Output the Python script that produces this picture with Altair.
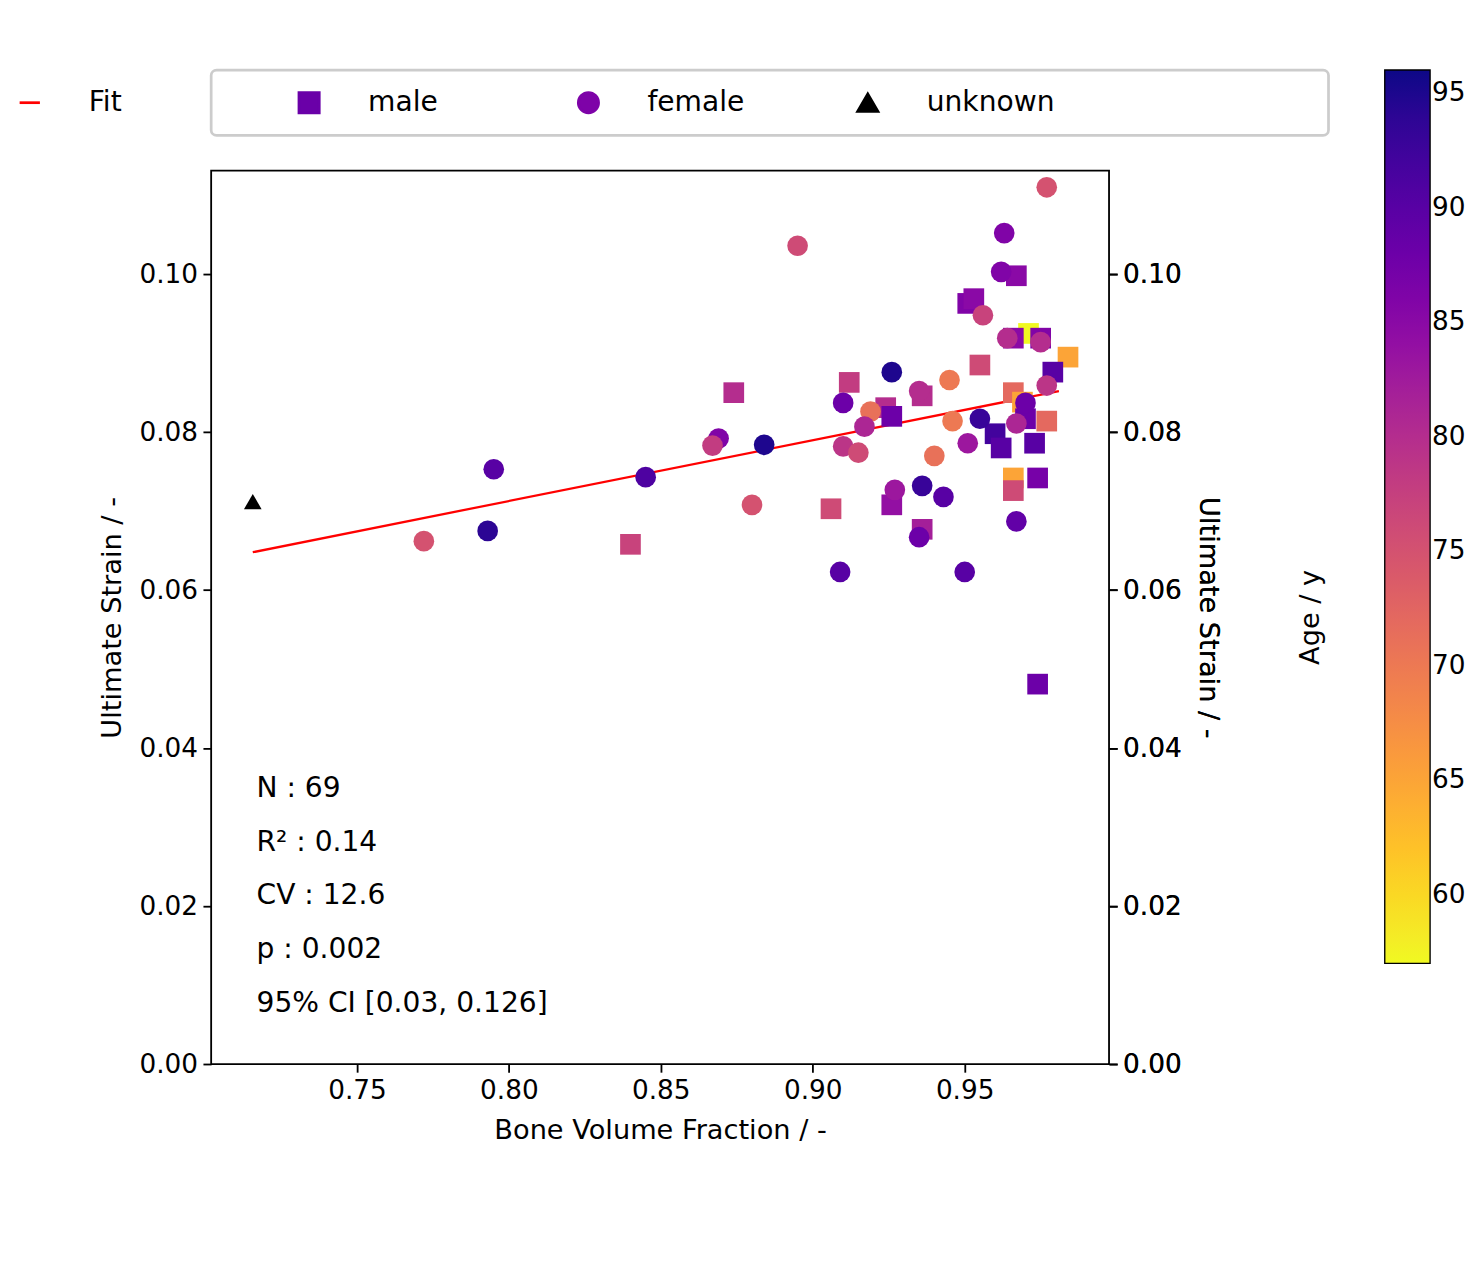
import altair as alt
import pandas as pd

# male samples (squares)
m_bvf = [0.874, 0.912, 0.906, 0.840, 0.924, 0.926, 0.936, 0.926, 0.936, 0.951, 0.953, 0.967, 0.955,
         0.971, 0.966, 0.975, 0.984, 0.979, 0.966, 0.969, 0.970, 0.977, 0.960, 0.962, 0.973, 0.966,
         0.974, 0.966, 0.974]
m_strain = [0.0850, 0.0863, 0.0703, 0.0658, 0.0831, 0.0820, 0.0846, 0.0708, 0.0677, 0.0963, 0.0969,
            0.0998, 0.0885, 0.0925, 0.0919, 0.0919, 0.0895, 0.0876, 0.0850, 0.0838, 0.0817, 0.0814,
            0.0798, 0.0780, 0.0786, 0.0742, 0.0742, 0.0726, 0.0481]
m_age = [80, 78, 76, 77, 80, 88, 80, 84, 82, 86, 85, 85, 76, 57, 85, 86, 65, 90, 72, 65, 88, 72, 92,
         90, 90, 65, 87, 76, 88]

# female samples (circles)
f_bvf = [0.772, 0.793, 0.795, 0.845, 0.869, 0.867, 0.884, 0.880, 0.895, 0.909, 0.910, 0.919, 0.917,
         0.910, 0.915, 0.926, 0.935, 0.945, 0.946, 0.940, 0.955, 0.951, 0.927, 0.936, 0.943, 0.935,
         0.950, 0.967, 0.956, 0.963, 0.962, 0.964, 0.975, 0.977, 0.977, 0.970, 0.967]
f_strain = [0.0662, 0.0675, 0.0753, 0.0743, 0.0792, 0.0783, 0.0784, 0.0708, 0.1036, 0.0623, 0.0837,
            0.0826, 0.0807, 0.0782, 0.0774, 0.0876, 0.0852, 0.0866, 0.0814, 0.0770, 0.0817, 0.0786,
            0.0727, 0.0732, 0.0718, 0.0667, 0.0623, 0.0687, 0.0948, 0.1052, 0.1003, 0.0919, 0.0914,
            0.1110, 0.0859, 0.0837, 0.0811]
f_age = [75, 94, 90, 91, 86, 78, 95, 75, 76, 90, 88, 71, 81, 79, 76, 95, 80, 70, 70, 71, 93, 83, 83,
         93, 90, 88, 90, 89, 77, 86, 86, 80, 80, 75, 79, 88, 81]

# unknown sample
u_bvf = [0.7157]
u_strain = [0.0712]

# fitted line end points
fit_bvf = [0.7157, 0.981]
fit_strain = [0.0648, 0.0852]

stats = ["N : 69", "R² : 0.14", "CV : 12.6", "p : 0.002", "95% CI [0.03,  0.126]"]

df = pd.concat([
    pd.DataFrame({"bvf": m_bvf, "strain": m_strain, "age": m_age, "sex": "male"}),
    pd.DataFrame({"bvf": f_bvf, "strain": f_strain, "age": f_age, "sex": "female"}),
])
df_u = pd.DataFrame({"bvf": u_bvf, "strain": u_strain})
df_fit = pd.DataFrame({"bvf": fit_bvf, "strain": fit_strain})
df_txt = pd.DataFrame({"t": stats, "i": range(len(stats))})

FONT = "DejaVu Sans"
W, H = 990, 985

x = alt.X("bvf:Q", title="Bone Volume Fraction / -",
          scale=alt.Scale(domain=[0.702, 0.9975], nice=False, zero=False),
          axis=alt.Axis(values=[0.75, 0.80, 0.85, 0.90, 0.95], format=".2f"))
y = alt.Y("strain:Q", title="Ultimate Strain / -",
          scale=alt.Scale(domain=[0, 0.1131], nice=False),
          axis=alt.Axis(values=[0, 0.02, 0.04, 0.06, 0.08, 0.10], format=".2f"))

pts = alt.Chart(df).mark_point(filled=True, opacity=1, size=520).encode(
    x=x, y=y,
    shape=alt.Shape("sex:N", scale=alt.Scale(domain=["male", "female"], range=["square", "circle"]),
                    legend=None),
    color=alt.Color("age:Q", scale=alt.Scale(scheme="plasma", reverse=True, domain=[57, 96]),
                    legend=alt.Legend(title=None, gradientLength=985, gradientThickness=50,
                                      values=[60, 65, 70, 75, 80, 85, 90, 95],
                                      labelFontSize=29,
                                      gradientStrokeColor="black", gradientStrokeWidth=1.5,
                                      tickCount=8, offset=60))
)

fit = alt.Chart(df_fit).mark_line(color="red", strokeWidth=2.5).encode(x=x, y=y)

unk = alt.Chart(df_u).mark_point(shape="triangle-up", filled=True, color="black",
                                 opacity=1, size=380).encode(x=x, y=y)

txt = alt.Chart(df_txt).mark_text(align="left", baseline="middle", fontSize=31, font=FONT,
                                  color="black").encode(
    x=alt.value(50),
    y=alt.Y("i:O", axis=None, scale=alt.Scale(range=[652, 948])),
    text="t:N"
)

cbar_title = alt.Chart(pd.DataFrame({"t": ["Age / y"]})).mark_text(
    angle=270, fontSize=30, font=FONT, color="black", baseline="middle", align="center"
).encode(x=alt.value(W + 222), y=alt.value(H / 2), text="t:N")

main = alt.layer(fit, pts, unk, txt, cbar_title).resolve_scale(y="independent").properties(
    width=W, height=H, view=alt.ViewBackground(stroke="black", strokeWidth=2)
)

# top legend
leg_names = ["Fit", "male", "female", "unknown"]
leg_shapes = ["stroke", "square", "circle", "triangle-up"]
leg_colors = ["red", "#6a00a8", "#7e03a8", "black"]
df_leg = pd.DataFrame({"name": leg_names, "shape": leg_shapes, "col": leg_colors})

lx = alt.X("name:N", sort=leg_names, axis=None, scale=alt.Scale(paddingInner=0, paddingOuter=0, align=0))
sym = alt.Chart(df_leg).mark_point(filled=True, opacity=1, size=500, strokeWidth=3).encode(
    x=lx, y=alt.value(36),
    shape=alt.Shape("shape:N", scale=None),
    fill=alt.Fill("col:N", scale=None),
    stroke=alt.Stroke("col:N", scale=None),
    xOffset=alt.value(-200),
)
lab = alt.Chart(df_leg).mark_text(align="left", baseline="middle", fontSize=31, font=FONT,
                                  dx=-135).encode(x=lx, y=alt.value(36), text="name:N")
legend = alt.layer(sym, lab).properties(
    width=1232, height=72,
    view=alt.ViewBackground(stroke="#cccccc", strokeWidth=3, cornerRadius=6)
)

chart = alt.vconcat(legend, main, spacing=36).configure(font=FONT).configure_axis(
    labelFontSize=29, titleFontSize=30, titleFontWeight="normal", grid=False,
    domain=False, tickColor="black", tickSize=9, tickWidth=2, labelColor="black",
    titleColor="black", labelPadding=6, titlePadding=14
)

chart.save("out.html", embed_options={"renderer": "svg", "actions": False})
